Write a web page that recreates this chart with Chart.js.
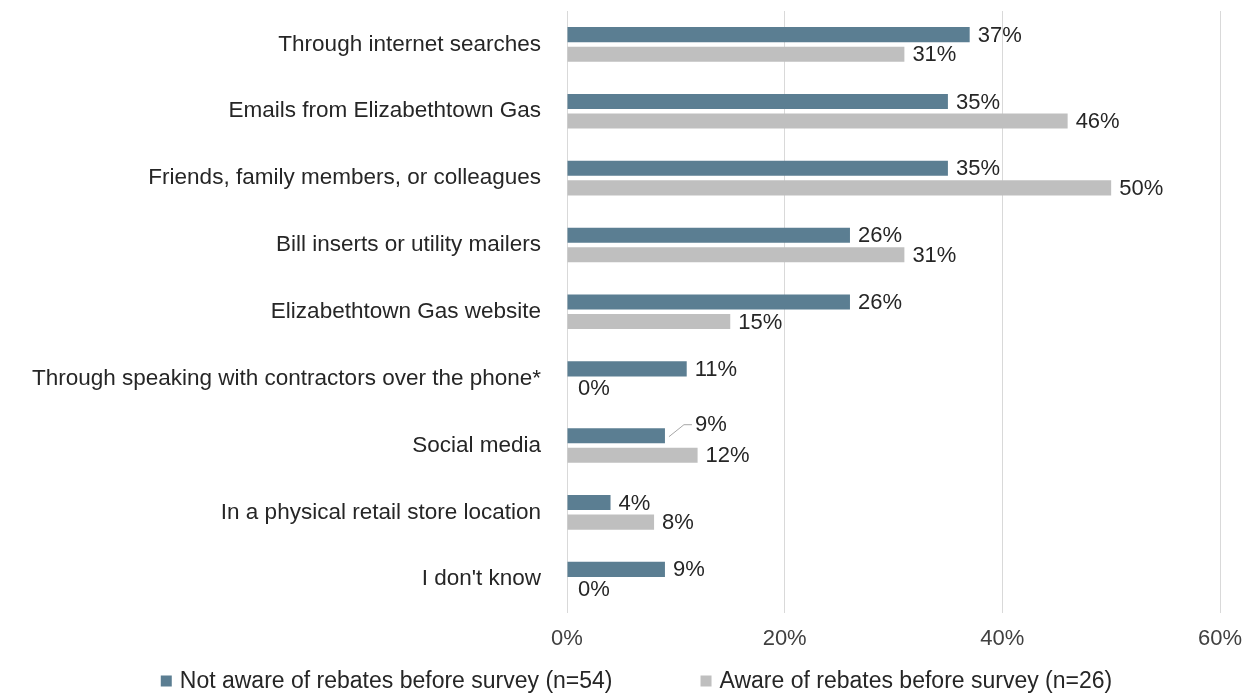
<!DOCTYPE html>
<html>
<head>
<meta charset="utf-8">
<script src="https://cdn.jsdelivr.net/npm/chart.js@4/dist/chart.umd.min.js"></script>
<style>
  html, body { margin: 0; padding: 0; background: #fff; }
  #wrap { width: 1249px; height: 693px; position: relative; }
</style>
</head>
<body>
<div id="wrap"><canvas id="sourcesChart"></canvas></div>
<script>
// Where respondents heard about rebates
const categories = [
  'Through internet searches',
  'Emails from Elizabethtown Gas',
  'Friends, family members, or colleagues',
  'Bill inserts or utility mailers',
  'Elizabethtown Gas website',
  'Through speaking with contractors over the phone*',
  'Social media',
  'In a physical retail store location',
  "I don't know"
];
const notAware = [37, 35, 35, 26, 26, 11, 9, 4, 9];
const aware = [31, 46, 50, 31, 15, 0, 12, 8, 0];
const xTicks = [0, 20, 40, 60];

const FONT = '"Liberation Sans", Arial, sans-serif';

// value labels at the end of each bar, with a leader line for the crowded one
const barLabels = {
  id: 'barLabels',
  afterDatasetsDraw(chart) {
    const ctx = chart.ctx;
    ctx.save();
    ctx.font = '22px ' + FONT;
    ctx.fillStyle = '#262626';
    ctx.textBaseline = 'middle';
    ctx.textAlign = 'left';
    chart.data.datasets.forEach((ds, di) => {
      const meta = chart.getDatasetMeta(di);
      meta.data.forEach((bar, i) => {
        const txt = ds.data[i] + '%';
        const callout = (ds.callouts || {})[i];
        if (callout) {
          const tx = bar.x + callout.dx;
          const ty = bar.y + callout.dy;
          ctx.strokeStyle = '#a6a6a6';
          ctx.lineWidth = 1;
          ctx.beginPath();
          ctx.moveTo(bar.x + 4, bar.y + 1);
          ctx.lineTo(tx - 11, ty);
          ctx.lineTo(tx - 3, ty);
          ctx.stroke();
          ctx.fillText(txt, tx, ty);
        } else {
          const off = ds.data[i] === 0 ? 11 : 8;
          ctx.fillText(txt, bar.x + off, bar.y + 1);
        }
      });
    });
    ctx.restore();
  }
};

// legend row under the axis, with a wide gap between the two entries
const bottomLegend = {
  id: 'bottomLegend',
  afterDraw(chart) {
    const ctx = chart.ctx;
    const box = 11, gap = 8, spacing = 88;
    ctx.save();
    ctx.font = '23px ' + FONT;
    ctx.textBaseline = 'middle';
    ctx.textAlign = 'left';
    const items = chart.data.datasets.map(ds => ({
      text: ds.label,
      color: ds.backgroundColor,
      w: box + gap + ctx.measureText(ds.label).width
    }));
    const total = items.reduce((s, it) => s + it.w, 0) + spacing * (items.length - 1);
    let x = (chart.width - total) / 2 + 12;
    const y = chart.height - 12;
    items.forEach(it => {
      ctx.fillStyle = it.color;
      ctx.fillRect(x, y - box / 2, box, box);
      ctx.fillStyle = '#262626';
      ctx.fillText(it.text, x + box + gap, y + 1);
      x += it.w + spacing;
    });
    ctx.restore();
  }
};

new Chart(document.getElementById('sourcesChart'), {
  type: 'bar',
  data: {
    labels: categories,
    datasets: [
      {
        label: 'Not aware of rebates before survey (n=54)',
        data: notAware,
        backgroundColor: '#5b7e92',
        borderWidth: 0,
        callouts: { 6: { dx: 30, dy: -11 } }
      },
      {
        label: 'Aware of rebates before survey (n=26)',
        data: aware,
        backgroundColor: '#bfbfbf',
        borderWidth: 0
      }
    ]
  },
  options: {
    indexAxis: 'y',
    responsive: true,
    maintainAspectRatio: false,
    animation: false,
    categoryPercentage: 0.585,
    barPercentage: 0.77,
    layout: { padding: { top: 11, right: 29, bottom: 28, left: 0 } },
    plugins: {
      legend: { display: false },
      tooltip: { enabled: false }
    },
    scales: {
      x: {
        min: 0,
        max: 60,
        afterBuildTicks(scale) {
          scale.ticks = xTicks.map(v => ({ value: v }));
        },
        afterFit(scale) {
          scale.paddingLeft = 0;
          scale.paddingRight = 0;
        },
        grid: { color: '#d9d9d9', drawTicks: false },
        border: { display: false },
        ticks: {
          padding: 13,
          color: '#404040',
          font: { family: FONT, size: 22 },
          callback: v => v + '%'
        }
      },
      y: {
        grid: { display: false },
        border: { display: false },
        afterFit(scale) {
          scale.width = 567;
          scale.paddingTop = 0;
          scale.paddingBottom = 0;
        },
        ticks: {
          padding: 18,
          color: '#262626',
          font: { family: FONT, size: 22.5 }
        }
      }
    }
  },
  plugins: [barLabels, bottomLegend]
});
</script>
</body>
</html>
